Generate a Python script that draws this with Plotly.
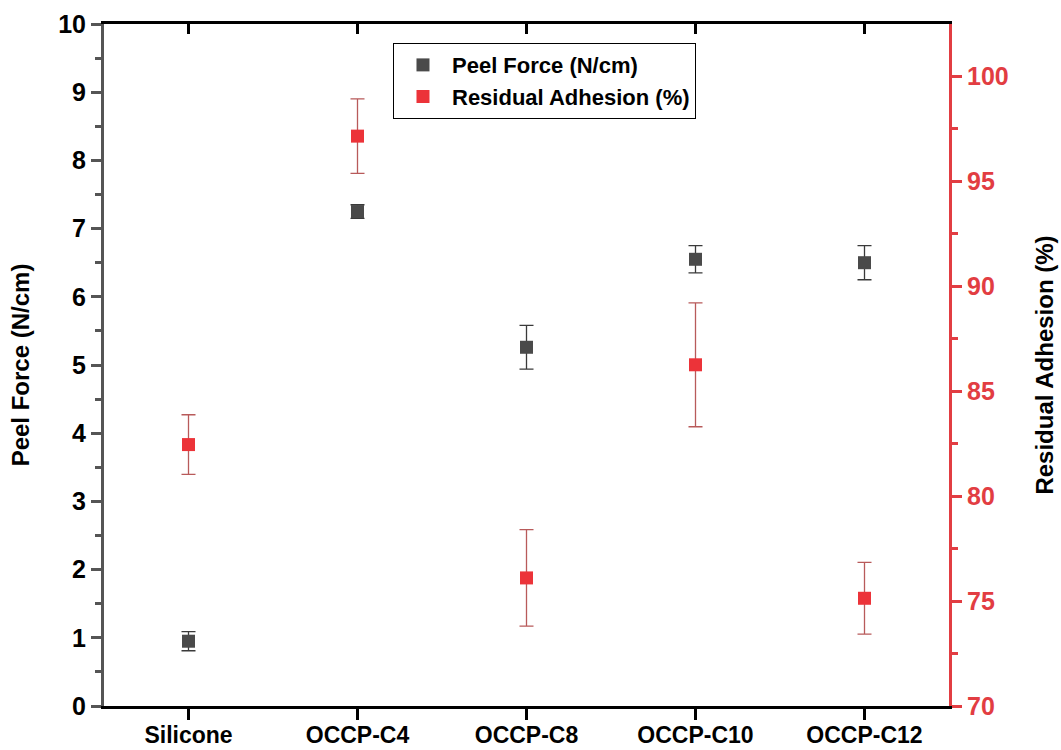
import plotly.graph_objects as go

categories = ["Silicone", "OCCP-C4", "OCCP-C8", "OCCP-C10", "OCCP-C12"]
positions = [1, 2, 3, 4, 5]
peel_force = [0.95, 7.25, 5.26, 6.55, 6.50]
peel_err = [0.14, 0.10, 0.32, 0.20, 0.25]
residual = [82.45, 97.14, 76.1, 86.25, 75.13]
residual_err = [1.42, 1.77, 2.3, 2.95, 1.71]

left_ticks = list(range(0, 11))
right_ticks = [70, 75, 80, 85, 90, 95, 100]

FONT = "Arial, Liberation Sans, sans-serif"
GRAY = "#4a4a4a"
RED = "#ec3339"
RED_AXIS = "#e23d42"

fig = go.Figure()

fig.add_trace(go.Scatter(
    x=positions, y=peel_force, mode="markers", name="Peel Force (N/cm)",
    marker=dict(symbol="square", size=13, color=GRAY),
    error_y=dict(type="data", array=peel_err, color="#3a3a3a", thickness=1.3, width=7),
    yaxis="y", xaxis="x",
))
fig.add_trace(go.Scatter(
    x=positions, y=residual, mode="markers", name="Residual Adhesion (%)",
    marker=dict(symbol="square", size=13, color=RED),
    error_y=dict(type="data", array=residual_err, color="#b85a5a", thickness=1.3, width=7),
    yaxis="y2", xaxis="x",
))
# invisible trace to anchor the top mirror axis
fig.add_trace(go.Scatter(
    x=positions, y=peel_force, mode="markers", marker=dict(opacity=0),
    showlegend=False, hoverinfo="skip", xaxis="x2", yaxis="y",
))

fig.update_layout(
    width=1061, height=750,
    margin=dict(l=104, r=112, t=24, b=44),
    paper_bgcolor="white", plot_bgcolor="white",
    font=dict(family=FONT, color="black"),
    showlegend=True,
    legend=dict(
        x=0.342, y=0.972, xanchor="left", yanchor="top",
        bordercolor="black", borderwidth=1, bgcolor="white",
        font=dict(family=FONT, size=22, weight="bold", color="black"),
        itemwidth=48, tracegroupgap=0,
    ),
    xaxis=dict(
        range=[0.5, 5.5], tickvals=positions, ticktext=categories,
        showgrid=False, zeroline=False, automargin=False,
        showline=True, linecolor="black", linewidth=3,
        ticks="outside", ticklen=11, tickwidth=3, tickcolor="black",
        ticklabelstandoff=-5,
        tickfont=dict(family=FONT, size=23, weight="bold", color="black"),
    ),
    xaxis2=dict(
        range=[0.5, 5.5], tickvals=positions, overlaying="x", side="top",
        anchor="y", showgrid=False, zeroline=False, showticklabels=False,
        automargin=False,
        showline=True, linecolor="black", linewidth=3,
        ticks="inside", ticklen=10, tickwidth=3, tickcolor="black",
    ),
    yaxis=dict(
        range=[0, 10], tickvals=left_ticks,
        showgrid=False, zeroline=False, automargin=False,
        showline=True, linecolor="#555555", linewidth=3,
        ticks="outside", ticklen=10, tickwidth=3, tickcolor="#555555",
        minor=dict(ticks="outside", ticklen=6, tickwidth=3, dtick=0.5, tickcolor="#555555", showgrid=False),
        tickfont=dict(family=FONT, size=25, weight="bold", color="black"),
        title=dict(text="Peel Force (N/cm)", standoff=22,
                   font=dict(family=FONT, size=24, weight="bold", color="black")),
    ),
    yaxis2=dict(
        range=[70, 102.48], tickvals=right_ticks, overlaying="y", side="right",
        anchor="x", showgrid=False, zeroline=False, automargin=False,
        showline=True, linecolor=RED_AXIS, linewidth=3,
        ticks="outside", ticklen=10, tickwidth=3, tickcolor=RED_AXIS,
        minor=dict(ticks="outside", ticklen=6, tickwidth=3, dtick=2.5, tickcolor=RED_AXIS, showgrid=False),
        tickfont=dict(family=FONT, size=25, weight="bold", color=RED_AXIS),
        title=dict(text="Residual Adhesion (%)", standoff=29,
                   font=dict(family=FONT, size=24, weight="bold", color="black")),
    ),
)

fig.write_html("out.html")
